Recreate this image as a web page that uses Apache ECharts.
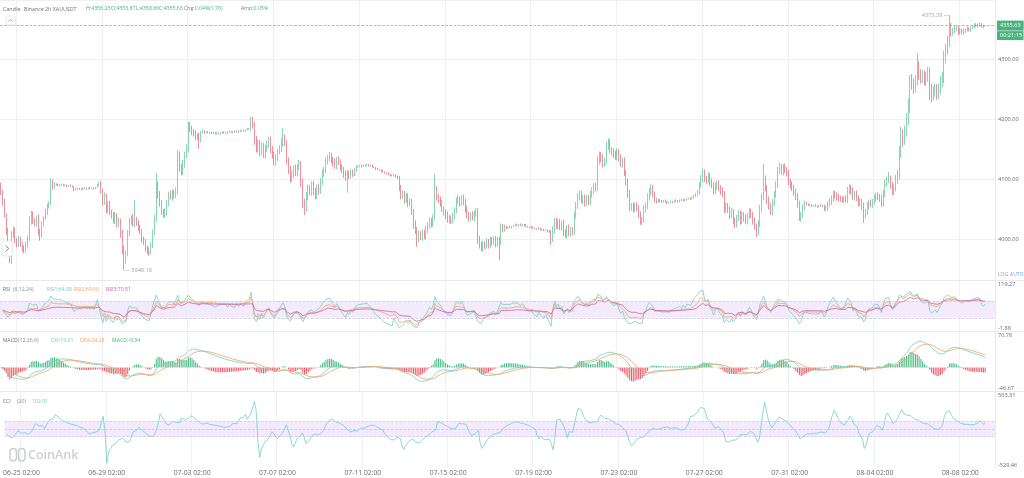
<!DOCTYPE html>
<html>
<head>
<meta charset="utf-8">
<title>XAUUSDT 2h</title>
<script src="https://cdn.jsdelivr.net/npm/echarts@6.0.0/dist/echarts.min.js"></script>
<style>
html, body { margin: 0; padding: 0; background: #fff; }
#chart { width: 1024px; height: 478px; }
</style>
</head>
<body>
<div id="chart"></div>
<script>
// 2h closes, oldest first (open = previous close)
var firstOpen = 4088;
var closes = [
    4078,4062,4040,4015,3978,3970,4005,4015,3998,3990,
    4000,3992,3985,3980,3990,4000,4030,4042,4030,4025,
    4035,4012,4005,4025,4035,4045,4055,4060,4095,4088,
    4092,4090,4089,4091,4090,4089,4090,4088,4089,4088,
    4087,4082,4083,4084,4083,4084,4083,4085,4084,4085,
    4084,4085,4084,4086,4090,4092,4080,4062,4070,4050,
    4058,4045,4040,4030,4038,4025,4030,4010,3985,3965,
    3975,4010,4030,4035,4025,4032,4028,4018,4012,4000,
    3995,3985,3980,3978,3990,4010,4035,4090,4075,4060,
    4045,4040,4045,4060,4075,4070,4078,4072,4080,4140,
    4120,4112,4125,4140,4150,4190,4185,4178,4175,4170,
    4172,4165,4178,4180,4177,4178,4177,4178,4176,4177,
    4175,4176,4177,4176,4178,4177,4178,4177,4179,4178,
    4179,4178,4180,4179,4180,4181,4180,4182,4183,4184,
    4198,4190,4165,4150,4160,4145,4155,4140,4150,4158,
    4165,4150,4140,4128,4135,4145,4150,4160,4168,4160,
    4130,4115,4100,4108,4118,4110,4120,4125,4095,4060,
    4050,4070,4085,4078,4090,4080,4072,4085,4080,4095,
    4110,4115,4130,4135,4138,4132,4128,4122,4132,4128,
    4120,4115,4108,4102,4110,4105,4112,4108,4115,4120,
    4121,4122,4121,4123,4122,4124,4123,4122,4120,4119,
    4117,4116,4115,4113,4112,4110,4109,4108,4106,4105,
    4107,4104,4102,4085,4072,4075,4065,4070,4060,4063,
    4045,4025,4015,4000,4008,4003,4010,4005,4015,4022,
    4030,4025,4035,4082,4070,4065,4060,4050,4045,4040,
    4032,4035,4030,4038,4048,4062,4065,4060,4068,4062,
    4050,4040,4035,4040,4035,4042,4045,4000,3990,3985,
    3992,3988,3995,3990,3998,3995,4000,3992,3998,3995,
    4020,4015,4020,4018,4020,4019,4021,4022,4024,4023,
    4024,4022,4024,4023,4021,4020,4019,4020,4018,4017,
    4016,4018,4016,4015,4014,4015,4013,4012,4000,4015,
    4030,4022,4028,4020,4025,4010,4008,4018,4010,4015,
    4012,4040,4055,4070,4075,4065,4068,4060,4068,4062,
    4075,4080,4088,4085,4130,4140,4135,4125,4130,4155,
    4160,4148,4145,4140,4138,4145,4135,4125,4130,4110,
    4095,4075,4052,4055,4050,4055,4052,4040,4030,4032,
    4050,4055,4070,4078,4085,4075,4065,4062,4065,4063,
    4062,4064,4062,4060,4061,4062,4063,4062,4064,4063,
    4065,4064,4066,4065,4067,4068,4067,4069,4072,4074,
    4078,4090,4100,4110,4100,4098,4105,4095,4090,4080,
    4088,4092,4085,4080,4075,4050,4055,4048,4040,4045,
    4030,4025,4035,4042,4030,4040,4035,4030,4038,4045,
    4040,4030,4020,4012,4025,4050,4070,4100,4085,4065,
    4055,4045,4060,4075,4090,4115,4118,4112,4120,4115,
    4110,4095,4090,4085,4078,4070,4058,4035,4040,4052,
    4060,4058,4056,4057,4055,4056,4054,4055,4054,4056,
    4055,4050,4052,4058,4062,4068,4075,4072,4070,4068,
    4066,4065,4067,4066,4080,4085,4080,4070,4075,4068,
    4060,4062,4055,4040,4045,4055,4060,4058,4062,4068,
    4072,4070,4068,4060,4075,4093,4098,4100,4090,4080,
    4085,4100,4108,4145,4175,4165,4180,4200,4222,4265,
    4258,4252,4265,4288,4275,4268,4272,4265,4270,4278,
    4250,4240,4245,4250,4242,4250,4262,4270,4302,4315,
    4330,4355,4345,4348,4350,4352,4345,4348,4344,4346,
    4348,4350,4349,4352,4354,4355,4357,4356,4358,4355,
    4353.87,4355.63
];
// wick lengths above max(open, close) and below min(open, close)
var upperWicks = [
    6,4,5,3,4,3,8,6,4,3,5,4,3,4,5,6,8,5,4,5,
    4,6,5,4,3,5,4,3,6,4,3,1,2,1,1,2,1,1,1,2,
    1,1,2,1,1,1,2,1,1,1,2,1,1,1,2,3,5,4,8,6,
    5,6,4,5,7,5,6,4,5,4,6,5,6,4,7,33,5,4,6,5,
    4,5,4,6,5,6,5,20,6,5,4,5,6,5,4,6,5,4,6,8,
    6,5,7,6,8,6,5,4,5,6,4,5,2,2,1,1,2,1,1,2,
    1,2,1,1,2,1,1,1,2,1,1,2,1,1,1,2,1,1,2,1,
    5,6,5,7,6,5,6,5,7,6,5,6,5,6,7,5,6,8,17,6,
    5,6,7,6,5,6,5,7,5,6,7,8,6,5,6,7,5,6,7,6,
    6,5,6,5,7,6,5,6,5,6,5,4,5,6,5,4,5,4,3,3,
    2,1,2,1,1,2,1,1,2,1,1,2,1,1,2,1,1,2,1,1,
    2,1,2,3,5,6,5,7,6,5,4,5,6,5,6,5,6,5,7,6,
    6,5,6,26,6,5,6,5,4,5,6,5,4,6,5,7,8,6,5,6,
    5,6,5,4,6,5,6,7,5,6,5,4,6,5,6,5,4,5,6,5,
    6,5,4,2,1,2,1,1,2,1,1,2,1,1,2,1,1,2,1,1,
    1,2,1,1,2,1,1,2,3,6,5,6,5,6,5,7,6,5,6,5,
    5,6,7,6,5,6,5,6,5,6,5,6,5,6,8,6,5,6,5,7,
    8,6,5,6,7,6,5,6,5,6,5,6,7,5,6,5,6,5,6,5,
    6,5,6,7,6,5,4,3,2,2,2,1,2,1,1,2,1,1,2,1,
    1,2,1,1,2,1,1,2,2,3,4,5,7,8,6,5,6,5,6,5,
    6,5,6,5,6,5,6,5,6,7,5,6,5,6,5,6,5,6,5,6,
    6,5,6,5,6,7,6,25,6,5,6,5,6,5,6,5,9,7,5,6,
    5,6,5,6,5,6,7,6,5,6,4,2,1,2,1,1,2,1,1,2,
    1,2,3,5,6,5,6,5,6,5,4,5,4,6,7,6,5,6,5,6,
    5,6,5,6,5,6,5,6,5,6,5,6,5,6,7,6,5,12,6,5,
    6,7,8,10,12,8,9,10,12,8,10,9,8,22,9,8,10,9,8,9,
    8,9,10,9,8,9,10,9,12,10,9,18.38,5,4,5,4,3,4,3,4,
    3,4,3,2,3,4,3,2,3,2,2,0.6
];
var lowerWicks = [
    5,6,4,8,6,10,12,4,5,4,3,5,6,4,3,4,3,6,5,4,
    5,6,8,3,4,3,5,4,3,6,4,1,1,2,1,1,1,2,1,1,
    1,2,1,1,1,2,1,1,2,1,1,1,2,1,1,2,4,6,5,8,
    6,5,6,4,5,6,5,8,10,16.82,6,4,5,6,4,5,6,5,4,6,
    5,6,5,6,4,5,4,6,8,6,5,4,5,6,5,4,6,5,4,6,
    8,6,5,6,5,6,7,5,4,5,6,15,4,2,2,1,1,2,1,1,
    1,1,2,1,1,1,2,1,1,1,2,1,1,2,1,1,1,2,1,1,
    4,6,8,6,5,7,6,5,6,5,6,7,6,5,6,5,4,5,6,5,
    6,7,6,5,6,5,6,5,8,9,10,5,6,5,6,7,6,5,6,5,
    5,6,5,6,5,6,7,5,6,5,6,5,6,5,25,5,4,5,3,3,
    1,1,2,1,1,1,2,1,1,1,2,1,1,2,1,1,1,2,1,1,
    1,2,2,5,6,5,6,5,7,6,5,8,7,13,6,5,6,5,6,5,
    5,6,5,4,6,5,6,5,6,7,5,6,5,4,6,5,4,6,5,6,
    6,5,6,5,4,6,5,8,6,5,6,5,4,6,5,6,5,6,5,30,
    5,4,3,2,1,1,2,1,1,1,2,1,1,2,1,1,1,2,1,1,
    1,1,2,1,1,1,2,2,10,5,6,5,6,5,6,5,6,7,5,6,
    6,5,6,5,6,5,7,6,5,6,5,6,5,6,5,6,7,6,5,6,
    6,5,6,5,6,7,6,5,6,5,6,7,6,5,6,5,6,5,6,7,
    5,6,5,6,5,6,4,3,2,2,2,1,1,2,1,1,2,1,1,2,
    2,1,1,2,1,1,2,1,2,2,3,4,5,6,5,6,5,6,5,6,
    5,6,5,6,5,7,6,5,6,5,6,7,6,5,6,5,6,5,6,5,
    5,6,5,9,6,5,6,5,6,7,6,5,6,5,6,5,6,5,6,5,
    6,5,6,5,6,5,6,5,6,5,4,2,1,1,2,1,1,2,1,1,
    2,3,4,5,4,5,6,5,6,5,4,5,4,5,6,5,6,5,6,5,
    6,5,6,13,6,5,6,5,6,5,6,5,6,7,6,5,6,5,6,7,
    7,6,8,9,10,12,8,9,10,12,9,10,8,9,10,9,8,9,10,8,
    18,12,9,8,10,9,8,9,10,9,8,10,8,6,5,4,5,4,3,4,
    3,2,3,4,2,3,2,3,2,3,2,0.01
];

var startTime = Date.UTC(2025, 5, 24, 8, 0);   // first candle
var slotCount = 557;                           // candles + empty slots on the right
var firstLabelIndex = 9;                       // 06-25 02:00
var labelEvery = 48;                           // every 4 days

var candleTitle = ['Candle', 'Binance 2h XAUUSDT'];
var candleStats = [['H:', '4356.23'], ['O:', '4353.87'], ['L:', '4353.86'], ['C:', '4355.63'], ['Chg:', '0.04%(1.76)'], ['Amp:', '0.05%']];
var rsiStats = ['RSI1:64.88', 'RSI2:69.60', 'RSI3:70.51'];
var macdStats = ['DIF:19.61', 'DEA:24.28', 'MACD:-9.34'];
var cciStat = '102.91';
var countdown = '00:21:15';

var mainRange = [3931.67, 4398.33];
var rsiRange = [-1.88, 119.27];
var macdRange = [-46.67, 70.78];
var cciRange = [-529.46, 503.31];

var UP = '#3ab87f', DOWN = '#e2475a';
var TEAL = '#6fd1c2', ORANGE = '#f3a263', PINK = '#cc62a4';
var FONT = 'Open Sans';

function pad(n) { return n < 10 ? '0' + n : '' + n; }

var times = [];
for (var i = 0; i < slotCount; i++) {
    var d = new Date(startTime + i * 2 * 3600000);
    times.push(pad(d.getUTCMonth() + 1) + '-' + pad(d.getUTCDate()) + ' ' + pad(d.getUTCHours()) + ':00');
}

var ohlc = closes.map(function (c, i) {
    var o = i === 0 ? firstOpen : closes[i - 1];
    return [o, c, Math.min(o, c) - lowerWicks[i], Math.max(o, c) + upperWicks[i]];
});

// Wilder RSI; gains and losses both start from the mean absolute move of the first n bars
function rsi(n) {
    var seed = 0;
    for (var j = 1; j <= n; j++) seed += Math.abs(closes[j] - closes[j - 1]);
    var up = seed / n, dn = seed / n, out = ['-'];
    for (var i = 1; i < closes.length; i++) {
        var diff = closes[i] - closes[i - 1];
        up = (up * (n - 1) + Math.max(diff, 0)) / n;
        dn = (dn * (n - 1) + Math.max(-diff, 0)) / n;
        out.push(up + dn === 0 ? 50 : 100 * up / (up + dn));
    }
    return out;
}

function ema(arr, n) {
    var k = 2 / (n + 1), out = [], prev;
    arr.forEach(function (v, i) {
        prev = i === 0 ? v : prev + k * (v - prev);
        out.push(prev);
    });
    return out;
}

var ema12 = ema(closes, 12), ema26 = ema(closes, 26);
var dif = ema12.map(function (v, i) { return v - ema26[i]; });
var dea = ema(dif, 9);
var hist = dif.map(function (v, i) { return 2 * (v - dea[i]); });

var typical = ohlc.map(function (k) { return (k[1] + k[2] + k[3]) / 3; });
var cci = typical.map(function (tp, i) {
    var win = typical.slice(Math.max(0, i - 19), i + 1);
    var ma = win.reduce(function (a, b) { return a + b; }, 0) / win.length;
    var md = win.reduce(function (a, b) { return a + Math.abs(b - ma); }, 0) / win.length;
    return md === 0 ? '-' : (tp - ma) / (0.015 * md);
});

function isLabelSlot(index) {
    return index >= firstLabelIndex && (index - firstLabelIndex) % labelEvery === 0;
}

var myChart = echarts.init(document.getElementById('chart'));

var grids = [
    {left: 0, right: 29, top: 0, height: 280},
    {left: 0, right: 29, top: 281, height: 50},
    {left: 0, right: 29, top: 332, height: 59},
    {left: 0, right: 29, top: 392, height: 76}
];

var xAxes = grids.map(function (g, idx) {
    return {
        type: 'category',
        gridIndex: idx,
        data: times,
        boundaryGap: true,
        axisLine: {show: false},
        axisTick: {show: false},
        axisLabel: {
            show: idx === 3,
            interval: isLabelSlot,
            color: '#666a70',
            fontSize: 6.8,
            fontFamily: FONT,
            margin: 2
        },
        splitLine: {
            show: true,
            interval: isLabelSlot,
            lineStyle: {color: '#eef0f3', width: 1}
        }
    };
});

function subAxis(idx, range) {
    return {
        type: 'value',
        gridIndex: idx,
        position: 'right',
        min: range[0],
        max: range[1],
        axisLine: {show: true, lineStyle: {color: '#e8eaee'}},
        axisTick: {show: false},
        splitLine: {show: false},
        axisLabel: {
            color: '#666a70',
            fontSize: 5.6,
            fontFamily: FONT,
            margin: 3,
            showMinLabel: true,
            showMaxLabel: true,
            verticalAlignMinLabel: 'bottom',
            verticalAlignMaxLabel: 'top',
            formatter: function (v) {
                return (v === range[0] || v === range[1]) ? v.toFixed(2) : '';
            }
        }
    };
}

var yAxes = [
    {
        type: 'value',
        gridIndex: 0,
        position: 'right',
        min: mainRange[0],
        max: mainRange[1],
        axisLine: {show: true, lineStyle: {color: '#e8eaee'}},
        axisTick: {show: false},
        splitLine: {lineStyle: {color: '#eef0f3'}},
        axisLabel: {
            color: '#666a70',
            fontSize: 5.6,
            fontFamily: FONT,
            margin: 3,
            showMinLabel: false,
            showMaxLabel: false,
            formatter: function (v) { return v.toFixed(2); }
        }
    },
    subAxis(1, rsiRange),
    subAxis(2, macdRange),
    subAxis(3, cciRange)
];

var bandArea = {
    silent: true,
    itemStyle: {color: '#f3eafc'},
    data: []
};
var bandLine = function (values) {
    return {
        silent: true,
        symbol: 'none',
        label: {show: false},
        lineStyle: {color: '#cbbddd', type: 'dashed', width: 0.7},
        data: values.map(function (v) { return {yAxis: v}; })
    };
};

var lastClose = closes[closes.length - 1];

function line(name, data, xi, color) {
    return {
        name: name,
        type: 'line',
        xAxisIndex: xi,
        yAxisIndex: xi,
        data: data,
        showSymbol: false,
        symbol: 'none',
        lineStyle: {color: color, width: 0.8},
        z: 3
    };
}

var rsi1 = line('RSI1', rsi(6), 1, TEAL);
rsi1.markArea = Object.assign({}, bandArea, {data: [[{yAxis: 30}, {yAxis: 70}]]});
rsi1.markLine = bandLine([30, 70]);
var cciLine = line('CCI', cci, 3, TEAL);
cciLine.markArea = Object.assign({}, bandArea, {data: [[{yAxis: -100}, {yAxis: 100}]]});
cciLine.markLine = bandLine([-100, 0, 100]);

myChart.setOption({
    animation: false,
    backgroundColor: '#fff',
    textStyle: {fontFamily: FONT},
    grid: grids,
    xAxis: xAxes,
    yAxis: yAxes,
    series: [
        {
            name: 'Candle',
            type: 'candlestick',
            xAxisIndex: 0,
            yAxisIndex: 0,
            data: ohlc,
            barWidth: 0.9,
            itemStyle: {
                color: UP,
                color0: DOWN,
                borderColor: UP,
                borderColor0: DOWN,
                borderWidth: 0.6
            },
            markLine: {
                silent: true,
                symbol: 'none',
                lineStyle: {color: '#64bb93', type: 'dashed', width: 0.7},
                label: {
                    position: 'end',
                    distance: 2,
                    formatter: lastClose.toFixed(2),
                    color: '#fff',
                    fontSize: 5.6,
                    fontFamily: FONT,
                    backgroundColor: '#4bb27f',
                    padding: [2, 3, 2, 3]
                },
                data: [{yAxis: lastClose}]
            },
            markPoint: {
                symbol: 'circle',
                symbolSize: 0.1,
                silent: true,
                label: {color: '#a3a7ae', fontSize: 5.6, fontFamily: FONT},
                data: [
                    {type: 'max', valueDim: 'highest', label: {position: 'left', distance: 0,
                        formatter: function (p) { return p.value.toFixed(2) + ' \u2014'; }}},
                    {type: 'min', valueDim: 'lowest', label: {position: 'right', distance: 0,
                        formatter: function (p) { return '\u2014 ' + p.value.toFixed(2); }}}
                ]
            }
        },
        rsi1,
        line('RSI2', rsi(12), 1, ORANGE),
        line('RSI3', rsi(24), 1, PINK),
        {
            name: 'MACD',
            type: 'bar',
            xAxisIndex: 2,
            yAxisIndex: 2,
            data: hist,
            barWidth: '60%',
            itemStyle: {
                color: function (p) { return p.value >= 0 ? '#4cbb87' : '#ef5b6b'; }
            }
        },
        line('DIF', dif, 2, TEAL),
        line('DEA', dea, 2, ORANGE),
        cciLine
    ]
});

// overlay texts and small UI pieces
var priceY = myChart.convertToPixel({yAxisIndex: 0}, lastClose);
var measureCtx = document.createElement('canvas').getContext('2d');

function textWidth(str, size) {
    measureCtx.font = size + 'px "' + FONT + '"';
    return measureCtx.measureText(str).width;
}

function txt(str, x, y, color, size, extra) {
    return Object.assign({
        type: 'text',
        silent: true,
        style: {
            text: str, x: x, y: y, fill: color,
            fontSize: size || 5.2, fontFamily: FONT,
            verticalAlign: 'middle', textVerticalAlign: 'middle'
        },
        z: 10
    }, extra || {});
}

var statX = [86, 111, 136, 159, 184, 241];
var graphics = [
    txt(candleTitle[0], 2.7, 9, '#6b7078', 5.6),
    txt(candleTitle[1], 24, 9, '#6b7078', 5.3)
];
candleStats.forEach(function (p, i) {
    graphics.push(txt(p[0], statX[i], 9, '#7a7f87', 5.2));
    graphics.push(txt(p[1], statX[i] + textWidth(p[0], 5.2), 9, '#46b37d', 5.2));
});

graphics.push(
    txt('RSI', 2.7, 289.5, '#6b7078'),
    txt('(6,12,24)', 13, 289.5, '#8a8f96'),
    txt(rsiStats[0], 47, 289.5, TEAL),
    txt(rsiStats[1], 74, 289.5, ORANGE),
    txt(rsiStats[2], 106, 289.5, PINK),
    txt('MACD', 2.7, 340.7, '#6b7078'),
    txt('(12,26,9)', 18, 340.7, '#8a8f96'),
    txt(macdStats[0], 51, 340.7, TEAL),
    txt(macdStats[1], 80, 340.7, ORANGE),
    txt(macdStats[2], 112, 340.7, '#46b37d'),
    txt('CCI', 2.7, 401.7, '#6b7078'),
    txt('(20)', 17, 401.7, '#8a8f96'),
    txt(cciStat, 32, 401.7, TEAL),
    txt('LOG', 998, 275, '#9aa0a8', 5),
    txt('AUTO', 1010, 275, '#62a9e2', 5)
);

// panel separators
[280.5, 331.5, 391.5].forEach(function (y) {
    graphics.push({
        type: 'line', silent: true, z: 5,
        shape: {x1: 0, y1: y, x2: 1024, y2: y},
        style: {stroke: '#e6e8ec', lineWidth: 1}
    });
});

// countdown box under the price tag
graphics.push({
    type: 'rect', silent: true, z: 10,
    shape: {x: 997, y: priceY + 5.5, width: 26.5, height: 9},
    style: {fill: '#4bb27f'}
});
graphics.push(txt(countdown, 1000, priceY + 10, '#fff', 5.6));

// side buttons
graphics.push({
    type: 'rect', silent: true, z: 10,
    shape: {x: 2, y: 241, width: 10.5, height: 15, r: 2},
    style: {fill: '#fff', stroke: '#e1e4e8', lineWidth: 0.8}
});
graphics.push({
    type: 'polyline', silent: true, z: 11,
    shape: {points: [[5.8, 245.5], [8.6, 248.5], [5.8, 251.5]]},
    style: {stroke: '#6e737a', lineWidth: 0.9, fill: null}
});
graphics.push({
    type: 'rect', silent: true, z: 10,
    shape: {x: 6, y: 16, width: 9.5, height: 9, r: 1.5},
    style: {fill: '#fff', stroke: '#dcdfe4', lineWidth: 0.8}
});
graphics.push({
    type: 'polyline', silent: true, z: 11,
    shape: {points: [[8.6, 21.6], [10.75, 19.4], [12.9, 21.6]]},
    style: {stroke: '#8a8f96', lineWidth: 0.8, fill: null}
});

// CoinAnk watermark
graphics.push({
    type: 'rect', silent: true, z: 2,
    shape: {x: 10, y: 448.5, width: 6.5, height: 12.5, r: 3.2},
    style: {fill: null, stroke: '#cdd0d5', lineWidth: 1.6}
});
graphics.push({
    type: 'rect', silent: true, z: 2,
    shape: {x: 18.5, y: 448.5, width: 6.5, height: 12.5, r: 3.2},
    style: {fill: null, stroke: '#cdd0d5', lineWidth: 1.6}
});
graphics.push(txt('CoinAnk', 28, 455, '#cdd0d5', 12.5, {z: 2}));
graphics[graphics.length - 1].style.fontWeight = 600;

myChart.setOption({graphic: graphics});
</script>
</body>
</html>
